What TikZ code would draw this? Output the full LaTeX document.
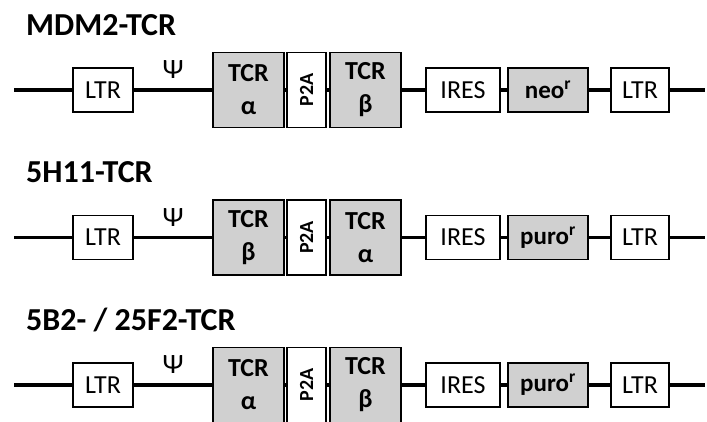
\documentclass[tikz,border=0pt]{standalone}
\usepackage{fontspec}
\usepackage{graphicx}
\setmainfont{Carlito}
\definecolor{boxgray}{RGB}{208,208,208}
\tikzset{
  backbone/.style={line width=3.5pt},
  elem/.style={draw, line width=1.3pt, inner sep=0pt, anchor=center},
  smallbox/.style={elem, fill=white, minimum height=44pt, font=\fontsize{26}{26}\selectfont},
  markbox/.style={smallbox, fill=boxgray, minimum width=80pt, font=\bfseries\fontsize{25}{25}\selectfont},
  tcrbox/.style={elem, fill=boxgray, minimum width=71pt, minimum height=75pt, align=center, font=\bfseries\fontsize{26}{33}\selectfont},
  p2abox/.style={elem, fill=white, minimum width=39pt, minimum height=75pt, font=\bfseries\fontsize{20}{20}\selectfont},
  psilabel/.style={inner sep=0pt, font=\fontsize{28}{28}\selectfont},
  titlelabel/.style={inner sep=0pt, font=\bfseries\fontsize{32}{32}\selectfont},
}
\newcommand\vecrow[6]{%
  \node[titlelabel, anchor=base west] (#2-title) at (26,#1-55) {#3};
  \coordinate (#2-s) at (14,#1);
  \coordinate (#2-e) at (705,#1);
  \node[smallbox, minimum width=60pt] (#2-ltrA) at (103,#1) {LTR};
  \node[psilabel] (#2-psi) at (173,#1-20) {Ψ};
  \node[tcrbox] (#2-tA) at (248.5,#1) {TCR\\#4};
  \node[p2abox] (#2-p2a) at (306.5,#1) {\rotatebox{90}{P2A}};
  \node[tcrbox] (#2-tB) at (365.5,#1) {TCR\\#5};
  \node[smallbox, minimum width=74pt] (#2-ires) at (463,#1) {IRES};
  \node[markbox] (#2-mark) at (548,#1) {#6\textsuperscript{r}};
  \node[smallbox, minimum width=58pt] (#2-ltrB) at (640,#1) {LTR};
  \draw[backbone] (#2-s) -- (#2-ltrA.west)
    (#2-ltrA.east) -- (#2-tA.west)
    (#2-tA.east) -- (#2-p2a.west)
    (#2-p2a.east) -- (#2-tB.west)
    (#2-tB.east) -- (#2-ires.west)
    (#2-ires.east) -- (#2-mark.west)
    (#2-mark.east) -- (#2-ltrB.west)
    (#2-ltrB.east) -- (#2-e);
}
\begin{document}
\begin{tikzpicture}[x=1pt, y=-1pt]
  \useasboundingbox (0,0) rectangle (707,421);
  \vecrow{90}{r1}{MDM2-TCR}{α}{β}{neo}
  \vecrow{237.5}{r2}{5H11-TCR}{β}{α}{puro}
  \vecrow{385}{r3}{5B2- / 25F2-TCR}{α}{β}{puro}
\end{tikzpicture}
\end{document}
